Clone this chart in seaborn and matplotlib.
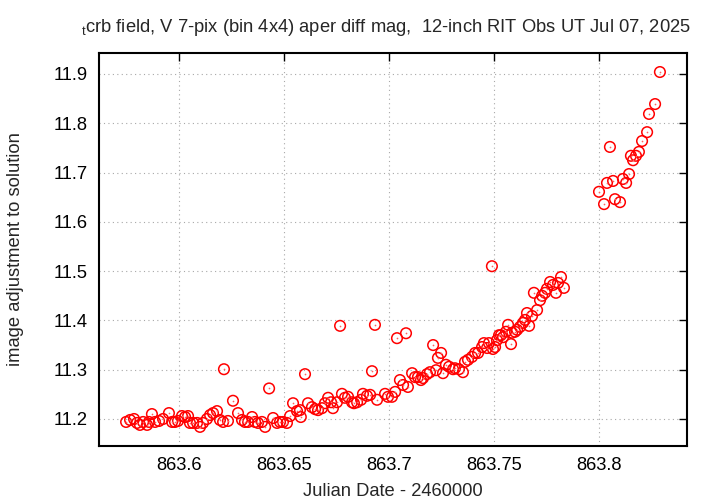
import matplotlib
matplotlib.use("Agg")
import matplotlib.pyplot as plt
import seaborn as sns
import numpy as np, pandas as pd

# ---- data (JD - 2460000, magnitude adjustment) ----
jd_flat = [863.5748, 863.5767, 863.5786, 863.5800, 863.5814, 863.5829, 863.5848, 863.5857,
           863.5871, 863.5886, 863.5905, 863.5924, 863.5952, 863.5967, 863.5981, 863.5995,
           863.6014, 863.6029, 863.6043, 863.6052, 863.6067, 863.6086, 863.6100, 863.6114,
           863.6133, 863.6148, 863.6162, 863.6181, 863.6195, 863.6210, 863.6214, 863.6233,
           863.6257, 863.6281, 863.6300, 863.6314, 863.6329, 863.6348, 863.6362, 863.6376,
           863.6395, 863.6410, 863.6429, 863.6448, 863.6467, 863.6481, 863.6495, 863.6514,
           863.6529, 863.6543, 863.6562, 863.6576, 863.6580, 863.6600, 863.6614]
mag_flat = [11.194, 11.198, 11.200, 11.192, 11.188, 11.194, 11.188, 11.194,
            11.210, 11.194, 11.196, 11.200, 11.212, 11.194, 11.194, 11.196,
            11.206, 11.204, 11.206, 11.192, 11.192, 11.192, 11.184, 11.192,
            11.200, 11.208, 11.212, 11.216, 11.198, 11.194, 11.301, 11.196,
            11.237, 11.212, 11.198, 11.194, 11.194, 11.204, 11.194, 11.192,
            11.194, 11.184, 11.262, 11.202, 11.192, 11.194, 11.194, 11.192,
            11.206, 11.232, 11.216, 11.218, 11.204, 11.291, 11.232]

jd_rise = [863.6633, 863.6648, 863.6662, 863.6681, 863.6695, 863.6710, 863.6724, 863.6733,
           863.6752, 863.6767, 863.6776, 863.6790, 863.6805, 863.6824, 863.6833, 863.6848,
           863.6867, 863.6876, 863.6895, 863.6910, 863.6919, 863.6933, 863.6943, 863.6981,
           863.6995, 863.7014, 863.7029, 863.7038, 863.7052, 863.7067, 863.7081, 863.7090,
           863.7110, 863.7124, 863.7138, 863.7152, 863.7162, 863.7181, 863.7195, 863.7210,
           863.7224, 863.7233, 863.7248, 863.7257, 863.7271, 863.7286, 863.7305, 863.7314,
           863.7333, 863.7352, 863.7362, 863.7376, 863.7395, 863.7410, 863.7424, 863.7443,
           863.7452, 863.7467, 863.7476, 863.7495, 863.7514, 863.7524]
mag_rise = [11.224, 11.220, 11.218, 11.222, 11.232, 11.243, 11.234, 11.222,
            11.234, 11.389, 11.251, 11.243, 11.245, 11.234, 11.232, 11.234,
            11.239, 11.251, 11.247, 11.249, 11.297, 11.391, 11.239, 11.251,
            11.245, 11.245, 11.255, 11.364, 11.279, 11.269, 11.374, 11.265,
            11.293, 11.285, 11.285, 11.279, 11.283, 11.291, 11.295, 11.350,
            11.299, 11.324, 11.334, 11.293, 11.310, 11.306, 11.301, 11.303,
            11.301, 11.295, 11.316, 11.320, 11.326, 11.334, 11.334, 11.346,
            11.354, 11.344, 11.354, 11.342, 11.360, 11.370]

jd_steep = [863.7490, 863.7505, 863.7533, 863.7543, 863.7557, 863.7567, 863.7581, 863.7586,
            863.7600, 863.7610, 863.7624, 863.7638, 863.7648, 863.7657, 863.7667, 863.7681,
            863.7690, 863.7705, 863.7719, 863.7729, 863.7743, 863.7752, 863.7767, 863.7781,
            863.7795, 863.7805, 863.7819, 863.7833]
mag_steep = [11.510, 11.346, 11.370, 11.366, 11.377, 11.391, 11.352, 11.375,
             11.377, 11.381, 11.387, 11.395, 11.401, 11.415, 11.389, 11.409,
             11.456, 11.421, 11.441, 11.450, 11.456, 11.464, 11.478, 11.472,
             11.456, 11.476, 11.488, 11.466]

jd_late = [863.8000, 863.8024, 863.8038, 863.8052, 863.8067, 863.8076, 863.8100, 863.8114,
           863.8129, 863.8143, 863.8152, 863.8162, 863.8176, 863.8190, 863.8205, 863.8229,
           863.8238, 863.8267, 863.8290]
mag_late = [11.661, 11.636, 11.679, 11.752, 11.683, 11.646, 11.640, 11.687,
            11.679, 11.697, 11.734, 11.725, 11.734, 11.742, 11.764, 11.782,
            11.819, 11.839, 11.904]

x_ticks = [863.6, 863.65, 863.7, 863.75, 863.8]
x_labels = ["863.6", "863.65", "863.7", "863.75", "863.8"]
y_ticks = [11.2, 11.3, 11.4, 11.5, 11.6, 11.7, 11.8, 11.9]

title = r"$_\mathrm{t}$crb field, V 7-pix (bin 4x4) aper diff mag,  12-inch RIT Obs UT Jul 07, 2025"

df = pd.DataFrame({"jd": jd_flat + jd_rise + jd_steep + jd_late,
                   "mag": mag_flat + mag_rise + mag_steep + mag_late})

# ---- style ----
sns.set_theme(style="white")
plt.rcParams["font.family"] = ["Liberation Sans", "DejaVu Sans"]
plt.rcParams["mathtext.fontset"] = "custom"
plt.rcParams["mathtext.rm"] = "Liberation Sans"
FS = 13.2

fig = plt.figure(figsize=(7.2, 5.04), dpi=100)
ax = fig.add_axes([99 / 720, 58 / 504, 588 / 720, 393 / 504])

sns.scatterplot(data=df, x="jd", y="mag", ax=ax, marker="o", s=58,
                facecolor="none", edgecolor="#ff0000", linewidth=1.1, zorder=3)
sns.scatterplot(data=df, x="jd", y="mag", ax=ax, marker="o", s=1.5,
                color="#ff6060", linewidth=0, zorder=3)

ax.set_xlim(863.5619, 863.8419)
ax.set_ylim(11.1452, 11.9426)
ax.set_xticks(x_ticks)
ax.set_xticklabels(x_labels)
ax.set_yticks(y_ticks)
ax.set_yticklabels([f"{v:.1f}" for v in y_ticks])

ax.grid(True, linestyle=(0, (1, 3)), color="#a8a8a8", linewidth=0.8, zorder=0)
ax.tick_params(direction="in", length=6, width=1, top=True, right=True,
               labelsize=FS, colors="black", pad=8)
for sp in ax.spines.values():
    sp.set_linewidth(1.5)
    sp.set_color("black")

ax.set_xlabel("Julian Date - 2460000", fontsize=FS)
ax.set_ylabel("image adjustment to solution", fontsize=FS)
ax.xaxis.set_label_coords(0.5, -0.093)
ax.yaxis.set_label_coords(-0.127, 0.5)
fig.text(386 / 720, 1 - 32 / 504, title, ha="center", va="baseline", fontsize=FS)

fig.savefig("out.png", dpi=100)
